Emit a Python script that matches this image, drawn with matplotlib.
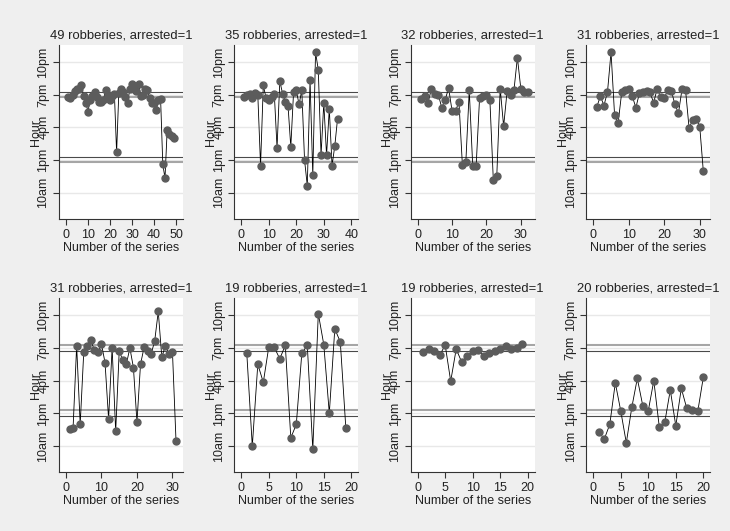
import matplotlib
matplotlib.use("Agg")
import matplotlib.pyplot as plt
import numpy as np

plt.rcParams['font.family'] = ['Liberation Sans', 'DejaVu Sans']

# hour of day for each robbery in the series (decimal hours)
series_1 = [18.8, 18.7, 19.0, 19.3, 19.5, 19.55, 19.9, 18.85, 18.25, 17.45,
            18.55, 18.85, 19.2, 18.8, 18.3, 18.3, 18.55, 19.4, 19.0, 18.5,
            18.85, 19.1, 13.7, 19.15, 19.5, 19.2, 18.75, 18.25, 19.5, 20.0,
            19.5, 19.3, 20.0, 18.85, 19.0, 19.5, 19.4, 18.7, 18.2, 18.2,
            17.55, 18.5, 18.6, 12.6, 11.35, 15.8, 15.35, 15.2, 15.05]
series_2 = [18.8, 18.95, 19.05, 18.7, 19.15, 19.0, 12.5, 19.85, 18.7, 18.5,
            18.8, 19.1, 14.1, 20.25, 19.1, 18.35, 17.95, 14.2, 19.2, 19.4,
            18.1, 19.4, 13.0, 10.65, 20.3, 11.6, 22.9, 21.25, 13.45, 18.25,
            13.45, 17.7, 12.5, 14.3, 16.8]
series_3 = [18.6, 18.85, 18.25, 19.55, 19.05, 19.0, 17.8, 18.55, 19.6, 17.5,
            17.5, 18.35, 12.55, 12.8, 19.4, 12.5, 12.45, 18.7, 18.85, 19.0,
            18.5, 11.15, 11.5, 19.55, 16.1, 19.3, 19.0, 19.4, 22.4, 19.55,
            19.2, 19.2]
series_4 = [17.9, 18.85, 18.0, 19.25, 22.9, 17.1, 16.4, 19.2, 19.4, 19.55,
            18.85, 17.8, 19.15, 19.2, 19.35, 19.2, 18.25, 19.55, 18.75, 18.7,
            19.4, 19.35, 18.1, 17.3, 19.5, 19.4, 15.9, 16.7, 16.8, 16.05, 12.0]
series_5 = [11.55, 11.7, 19.2, 12.0, 18.6, 19.2, 19.7, 18.8, 18.6, 19.35,
            17.65, 12.5, 19.0, 11.35, 18.75, 17.85, 17.5, 19.0, 17.2, 12.2,
            17.5, 19.05, 18.75, 18.45, 19.65, 22.35, 18.15, 19.2, 18.45, 18.65, 10.5]
series_6 = [18.5, 10.0, 17.5, 15.85, 19.1, 19.05, 18.0, 19.25, 10.75, 12.0,
            18.5, 19.25, 9.7, 22.15, 19.3, 13.0, 20.75, 19.55, 11.7]
series_7 = [18.65, 18.9, 18.7, 18.35, 19.25, 15.95, 18.9, 17.7, 18.3, 18.75,
            18.8, 18.3, 18.5, 18.7, 18.9, 19.2, 18.9, 19.0, 19.35]
series_8 = [11.3, 10.65, 12.0, 15.8, 13.2, 10.3, 13.55, 16.2, 13.7, 13.25,
            16.0, 11.75, 12.2, 15.15, 11.85, 15.3, 13.45, 13.3, 13.2, 16.3]

all_series = [series_1, series_2, series_3, series_4,
              series_5, series_6, series_7, series_8]
x_tick_max = [50, 40, 30, 30, 30, 20, 20, 20]
x_tick_step = [10, 10, 10, 10, 10, 5, 5, 5]

hour_ticks = [10, 13, 16, 19, 22]
hour_labels = ['10am', '1pm', '4pm', '7pm', '10pm']

# reference lines (hours): dark and grey pairs
ref_top_dark = [19.27, 13.27]
ref_top_grey = [18.78, 12.78]
ref_bot_grey = [19.27, 13.27]
ref_bot_dark = [18.75, 12.75]

W, H = 730, 531
fig = plt.figure(figsize=(W / 100, H / 100), dpi=100, facecolor='#efefef')

col_left = [59, 234.3, 410.7, 586.3]
row_top = [45, 298.3]
ax_w, ax_h = 124, 174

for i, ys in enumerate(all_series):
    r, c = divmod(i, 4)
    left = col_left[c] / W
    bottom = (H - row_top[r] - ax_h) / H
    ax = fig.add_axes([left, bottom, ax_w / W, ax_h / H], facecolor='white')

    xs = np.arange(1, len(ys) + 1)
    hi = max(len(ys), x_tick_max[i])
    m = 7 * hi / (ax_w - 14)
    ax.set_xlim(-m, hi + m)
    ax.set_ylim(7.6, 23.55)

    for h in hour_ticks:
        ax.axhline(h, color='#e8e8e8', lw=1.0, zorder=0)

    if r == 0:
        dark, grey = ref_top_dark, ref_top_grey
    else:
        dark, grey = ref_bot_dark, ref_bot_grey
    for h in grey:
        ax.axhline(h, color='#a6a6a6', lw=1.5, zorder=1)
    for h in dark:
        ax.axhline(h, color='#4a4a4a', lw=0.8, zorder=1)

    ax.plot(xs, ys, color='black', lw=0.6, zorder=2)
    ax.plot(xs, ys, 'o', color='#5c5c5c', ms=5, mec='#5c5c5c', zorder=3)

    ax.set_xticks(np.arange(0, x_tick_max[i] + 1, x_tick_step[i]))
    ax.set_yticks(hour_ticks)
    ax.set_yticklabels(hour_labels, rotation=90, va='center')
    ax.tick_params(length=4, width=0.8, color='#333333', labelsize=9,
                   labelcolor='#222222', pad=3)

    for s in ['top', 'right']:
        ax.spines[s].set_visible(False)
    for s in ['left', 'bottom']:
        ax.spines[s].set_color('#333333')
        ax.spines[s].set_linewidth(0.8)

    ax.set_xlabel('Number of the series', fontsize=9, color='#222222', labelpad=1)
    ax.set_ylabel('Hour', fontsize=9, color='#222222')
    ax.yaxis.set_label_coords(-0.14, 0.5)
    ax.set_title(f'{len(ys)} robberies, arrested=1', fontsize=9.4, color='#222222', pad=5)

fig.savefig('out.png', dpi=100, facecolor=fig.get_facecolor())
